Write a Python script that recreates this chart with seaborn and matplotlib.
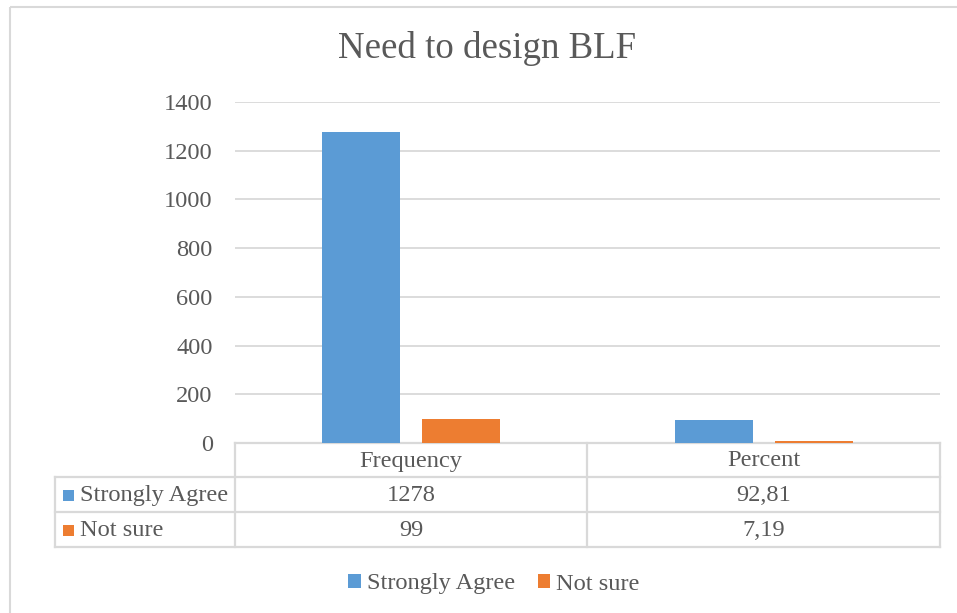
import matplotlib
matplotlib.use("Agg")
import matplotlib.pyplot as plt
from matplotlib.patches import Patch, Rectangle
import pandas as pd
import seaborn as sns

# chart data
title = "Need to design BLF"
categories = ["Frequency", "Percent"]
series = ["Strongly Agree", "Not sure"]
strongly_agree = [1278, 92.81]
not_sure = [99, 7.19]
y_ticks = [0, 200, 400, 600, 800, 1000, 1200, 1400]

colors = ["#5B9BD5", "#ED7D31"]
text_col = "#595959"
line_col = "#D9D9D9"

W, H = 957, 613


def fmt(v):
    # Excel table uses comma as decimal separator
    return f"{v:g}".replace(".", ",")


def generate_chart():
    sns.set_style("white")
    plt.rcParams["font.family"] = ["Liberation Serif", "DejaVu Serif"]

    rows = []
    for name, vals in zip(series, [strongly_agree, not_sure]):
        for cat, v in zip(categories, vals):
            rows.append({"category": cat, "series": name, "value": v})
    df = pd.DataFrame(rows)

    fig = plt.figure(figsize=(W / 100, H / 100), dpi=100)

    # background layer in pixel coordinates for border + data table
    bg = fig.add_axes([0, 0, 1, 1], zorder=0)
    bg.set_xlim(0, W)
    bg.set_ylim(H, 0)
    bg.axis("off")
    bg.add_patch(Rectangle((9.5, 6.5), W + 20, H + 20, fill=False,
                           edgecolor=line_col, lw=1.5))

    # plot area
    x0, x1, ytop, ybot = 235, 940, 102, 443
    ax = fig.add_axes([x0 / W, 1 - ybot / H, (x1 - x0) / W, (ybot - ytop) / H], zorder=1)
    ax.patch.set_alpha(0)
    sns.barplot(data=df, x="category", y="value", hue="series", order=categories,
                hue_order=series, palette=colors, saturation=1, width=0.568, gap=0.22,
                linewidth=0, legend=False, ax=ax)
    ax.set_xlim(-0.5, len(categories) - 0.5)
    ax.set_ylim(0, 1400)
    ax.set_yticks(y_ticks)
    ax.set_yticklabels([str(t) for t in y_ticks])
    fs = 17.6
    ax.tick_params(axis="y", length=0, pad=16, labelsize=fs, labelcolor=text_col)
    ax.set_xticks([])
    ax.set_xlabel("")
    ax.set_ylabel("")
    ax.grid(axis="y", color=line_col, lw=1.3)
    ax.set_axisbelow(True)
    for s in ax.spines.values():
        s.set_visible(False)

    fig.text(487.5 / W, 1 - 49 / H, title, ha="center", va="center",
             fontsize=26.6, color=text_col)

    # data table below the axis
    col_edges = [55, 235, 587, 940]
    row_edges = [443, 477, 512, 547]
    kw = dict(color=line_col, lw=1.6, solid_capstyle="projecting")
    bg.plot([col_edges[1], col_edges[-1]], [row_edges[0]] * 2, **kw)
    for y in row_edges[1:]:
        bg.plot([col_edges[0], col_edges[-1]], [y, y], **kw)
    bg.plot([col_edges[0]] * 2, [row_edges[1], row_edges[-1]], **kw)
    for x in col_edges[1:]:
        bg.plot([x, x], [row_edges[0], row_edges[-1]], **kw)

    for j, cat in enumerate(categories):
        cx = (col_edges[j + 1] + col_edges[j + 2]) / 2
        bg.text(cx, (row_edges[0] + row_edges[1]) / 2 + 1, cat, ha="center", va="center",
                fontsize=fs, color=text_col)
    for i, (name, vals) in enumerate(zip(series, [strongly_agree, not_sure])):
        cy = (row_edges[i + 1] + row_edges[i + 2]) / 2 + 1
        bg.add_patch(Rectangle((63, cy - 6), 11, 11, color=colors[i], lw=0))
        bg.text(80, cy, name, ha="left", va="center", fontsize=fs, color=text_col)
        for j, v in enumerate(vals):
            cx = (col_edges[j + 1] + col_edges[j + 2]) / 2
            bg.text(cx, cy, fmt(v), ha="center", va="center", fontsize=fs, color=text_col)

    # legend at the bottom
    handles = [Patch(facecolor=c, edgecolor="none", label=n) for c, n in zip(colors, series)]
    fig.legend(handles=handles, loc="center", bbox_to_anchor=(494 / W, 1 - 584 / H),
               ncol=2, frameon=False, fontsize=fs, labelcolor=text_col,
               handlelength=0.5, handleheight=0.5, handletextpad=0.25, columnspacing=0.95)

    fig.savefig("out.png", dpi=100)
    plt.close(fig)


if __name__ == "__main__":
    generate_chart()
